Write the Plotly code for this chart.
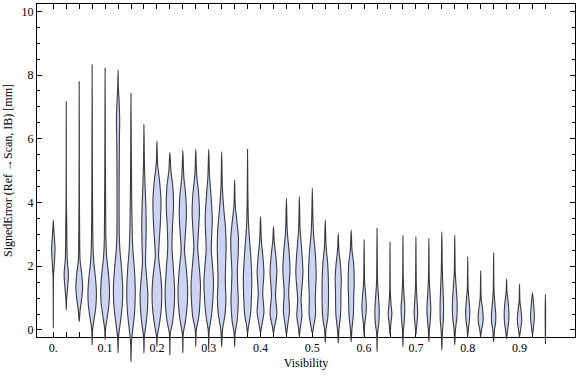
import plotly.graph_objects as go

# Visibility bins (category positions on the x axis)
VISIBILITY = [0.0, 0.025, 0.05, 0.075, 0.1, 0.125, 0.15, 0.175, 0.2, 0.225,
              0.25, 0.275, 0.3, 0.325, 0.35, 0.375, 0.4, 0.425, 0.45, 0.475,
              0.5, 0.525, 0.55, 0.575, 0.6, 0.625, 0.65, 0.675, 0.7, 0.725,
              0.75, 0.775, 0.8, 0.825, 0.85, 0.875, 0.9, 0.925, 0.95]

# Estimated density profile of each violin: signed error levels [mm] and relative density
PROFILE_Y = [
    [0.07, 1.7, 2.0, 2.55, 3.05, 3.45],
    [0.63, 1.0, 1.3, 1.75, 2.2, 2.6, 3.3, 4.0, 7.17],
    [0.26, 0.6, 1.0, 1.36, 1.8, 2.2, 3.0, 4.5, 7.8],
    [-0.47, 0.0, 0.3, 0.7, 1.15, 1.6, 2.1, 2.6, 3.5, 5.0, 8.32],
    [-0.3, 0.05, 0.4, 0.8, 1.25, 1.8, 2.3, 2.8, 4.0, 5.5, 8.22],
    [-0.72, -0.2, 0.3, 0.8, 1.3, 1.9, 2.5, 3.0, 4.0, 5.0, 6.0, 6.6, 7.2, 7.6, 8.16],
    [-1.0, -0.4, 0.0, 0.6, 1.25, 1.9, 2.5, 3.2, 4.2, 5.5, 7.43],
    [-0.72, -0.2, 0.2, 0.7, 1.15, 1.7, 2.1, 2.6, 3.2, 3.9, 4.6, 5.3, 6.44],
    [-0.52, -0.2, 0.2, 0.7, 1.2, 1.7, 2.3, 2.8, 3.5, 4.1, 4.7, 5.2, 5.93],
    [-0.78, -0.1, 0.3, 0.8, 1.3, 1.9, 2.6, 3.2, 3.9, 4.5, 5.0, 5.57],
    [-0.72, -0.1, 0.3, 0.8, 1.3, 1.9, 2.5, 3.0, 3.6, 4.2, 4.8, 5.65],
    [-0.52, 0.0, 0.4, 0.9, 1.45, 2.0, 2.6, 3.1, 3.7, 4.3, 4.9, 5.67],
    [-0.63, 0.0, 0.4, 1.0, 1.55, 2.1, 2.5, 3.0, 3.5, 4.1, 4.8, 5.67],
    [-0.52, 0.0, 0.5, 1.0, 1.5, 1.9, 2.6, 3.2, 3.8, 4.5, 5.6],
    [-0.53, -0.1, 0.3, 0.9, 1.4, 1.8, 2.4, 2.9, 3.4, 3.9, 4.71],
    [-0.1, 0.1, 0.5, 1.0, 1.6, 2.2, 2.8, 3.4, 4.2, 5.67],
    [-0.1, 0.1, 0.55, 1.15, 1.8, 2.3, 2.8, 3.56],
    [-0.1, 0.1, 0.5, 1.1, 1.85, 2.4, 2.8, 3.25],
    [-0.15, 0.1, 0.6, 1.15, 1.9, 2.5, 3.1, 4.13],
    [-0.2, 0.05, 0.45, 0.95, 1.8, 2.5, 3.2, 4.19],
    [-0.1, 0.1, 0.5, 1.0, 1.7, 2.4, 3.0, 3.6, 4.45],
    [-0.4, 0.0, 0.4, 1.4, 2.1, 2.6, 3.45],
    [-0.41, 0.0, 0.5, 1.2, 1.6, 2.1, 2.5, 3.03],
    [-0.37, 0.0, 0.5, 1.0, 1.5, 2.1, 2.5, 3.14],
    [-0.2, 0.2, 0.45, 0.75, 1.1, 1.5, 2.0, 2.83],
    [-0.68, -0.1, 0.2, 0.6, 1.0, 1.5, 2.2, 3.19],
    [-0.15, 0.2, 0.5, 0.8, 1.2, 2.77],
    [-0.52, 0.0, 0.3, 0.7, 1.1, 1.6, 2.98],
    [-0.15, 0.1, 0.5, 0.9, 1.4, 2.93],
    [-0.37, 0.0, 0.3, 0.65, 1.1, 1.6, 2.88],
    [-0.63, -0.1, 0.3, 0.8, 1.3, 1.9, 3.09],
    [-0.47, 0.0, 0.4, 0.8, 1.3, 1.8, 2.98],
    [-0.2, 0.05, 0.3, 0.6, 0.95, 1.3, 2.3],
    [-0.2, 0.0, 0.2, 0.4, 0.7, 1.0, 1.86],
    [-0.37, 0.0, 0.2, 0.45, 0.8, 1.2, 2.43],
    [-0.28, -0.05, 0.2, 0.5, 0.85, 1.2, 1.6],
    [-0.2, 0.0, 0.3, 0.6, 0.9, 1.44],
    [-0.15, 0.05, 0.4, 0.75, 1.18],
    [-0.42, 0.5, 1.12],
]
PROFILE_D = [
    [0.0, 0.3, 1.0, 2.0, 0.8, 0.0],
    [0.0, 0.5, 1.5, 2.5, 1.2, 0.8, 0.6, 0.2, 0.0],
    [0.0, 1.0, 3.0, 4.0, 2.8, 1.0, 0.5, 0.2, 0.0],
    [0.0, 0.5, 2.0, 4.2, 5.0, 4.0, 2.0, 1.0, 0.6, 0.3, 0.0],
    [0.0, 0.6, 2.5, 4.5, 5.2, 3.8, 1.8, 1.0, 0.6, 0.3, 0.0],
    [0.0, 0.6, 3.0, 5.0, 5.5, 4.2, 2.2, 1.4, 1.2, 1.3, 1.6, 1.9, 1.2, 0.4, 0.0],
    [0.0, 0.5, 2.0, 4.3, 5.0, 4.0, 2.2, 1.3, 0.8, 0.4, 0.0],
    [0.0, 0.5, 2.5, 4.2, 4.5, 3.0, 1.8, 2.2, 2.6, 2.2, 1.2, 0.5, 0.0],
    [0.0, 0.5, 3.0, 5.2, 5.7, 4.5, 2.0, 2.8, 4.3, 4.7, 3.0, 0.8, 0.0],
    [0.0, 0.6, 3.5, 5.2, 5.5, 4.2, 2.5, 3.0, 4.3, 3.5, 1.2, 0.0],
    [0.0, 0.6, 3.2, 5.2, 5.6, 4.2, 2.0, 3.0, 4.2, 3.5, 1.2, 0.0],
    [0.0, 0.6, 3.5, 5.0, 5.5, 4.0, 2.3, 3.2, 4.3, 3.3, 1.0, 0.0],
    [0.0, 0.6, 3.0, 5.0, 5.6, 4.2, 3.0, 3.6, 4.2, 3.0, 1.0, 0.0],
    [0.0, 1.0, 4.0, 5.0, 4.3, 4.5, 5.2, 4.5, 2.5, 0.8, 0.0],
    [0.0, 0.6, 3.0, 4.3, 3.6, 3.2, 4.2, 4.5, 2.8, 0.8, 0.0],
    [0.0, 1.0, 3.5, 4.5, 5.0, 4.0, 2.4, 1.0, 0.4, 0.0],
    [0.0, 1.2, 4.0, 2.6, 4.0, 2.8, 1.0, 0.0],
    [0.0, 1.2, 4.0, 2.4, 4.0, 2.5, 0.8, 0.0],
    [0.0, 1.2, 3.6, 2.6, 4.2, 3.0, 1.0, 0.0],
    [0.0, 1.0, 3.0, 2.0, 4.2, 2.8, 0.8, 0.0],
    [0.0, 1.5, 3.8, 3.5, 4.5, 3.5, 1.5, 0.6, 0.0],
    [0.0, 0.8, 3.0, 3.8, 2.8, 1.0, 0.0],
    [0.0, 0.8, 2.8, 3.2, 3.6, 2.4, 0.8, 0.0],
    [0.0, 0.8, 2.6, 3.0, 3.6, 2.8, 1.0, 0.0],
    [0.0, 0.8, 2.0, 2.6, 1.8, 0.6, 0.3, 0.0],
    [0.0, 0.5, 2.0, 2.6, 1.8, 0.6, 0.3, 0.0],
    [0.0, 1.0, 2.2, 1.2, 0.4, 0.0],
    [0.0, 0.6, 1.6, 2.2, 1.2, 0.4, 0.0],
    [0.0, 0.8, 2.1, 1.4, 0.5, 0.0],
    [0.0, 0.6, 1.6, 2.3, 1.4, 0.5, 0.0],
    [0.0, 0.6, 1.8, 2.0, 1.4, 0.6, 0.0],
    [0.0, 0.8, 2.5, 2.8, 1.8, 0.6, 0.0],
    [0.0, 0.8, 2.0, 2.5, 1.5, 0.5, 0.0],
    [0.0, 1.0, 2.5, 3.0, 2.0, 0.6, 0.0],
    [0.0, 1.0, 2.2, 2.6, 1.6, 0.5, 0.0],
    [0.0, 1.0, 2.3, 2.8, 2.0, 0.5, 0.0],
    [0.0, 1.2, 2.6, 1.8, 0.5, 0.0],
    [0.0, 1.0, 2.3, 1.5, 0.0],
    [0.0, 0.3, 0.0],
]

X_TICK_LABELS = ["0.", "0.1", "0.2", "0.3", "0.4", "0.5", "0.6", "0.7", "0.8", "0.9"]
Y_TICKS = [0, 2, 4, 6, 8, 10]

# style / geometry
DENS_TO_X = 0.85 / 518.0
FILL = "rgb(205,211,243)"
EDGE = "rgba(50,50,55,0.95)"
FONT = "Liberation Serif"

fig = go.Figure()

# dummy trace to anchor the framed subplot
fig.add_trace(go.Scatter(x=[None], y=[None], xaxis="x", yaxis="y",
                         showlegend=False, hoverinfo="skip"))

for pos, ys, ds in zip(VISIBILITY, PROFILE_Y, PROFILE_D):
    right_x = [pos + d * DENS_TO_X for d in ds]
    left_x = [pos - d * DENS_TO_X for d in reversed(ds)]
    xs = right_x + left_x[1:]
    yy = list(ys) + list(reversed(ys))[1:]
    fig.add_trace(go.Scatter(
        x=xs, y=yy, xaxis="x2", yaxis="y2",
        mode="lines", fill="toself", fillcolor=FILL,
        line=dict(color=EDGE, width=1.1, shape="spline", smoothing=0.8),
        showlegend=False, hoverinfo="skip"))

tickvals = VISIBILITY
ticktext = []
for i, v in enumerate(VISIBILITY):
    ticktext.append(X_TICK_LABELS[i // 4] if i % 4 == 0 else "")

XR = [-0.0315, 1.0071]
fig.update_layout(
    width=576, height=377, autosize=False,
    margin=dict(l=37, r=1, t=4, b=12),
    paper_bgcolor="white", plot_bgcolor="rgba(0,0,0,0)",
    font=dict(family=FONT, size=12, color="black"),
    hovermode=False,
    xaxis=dict(domain=[0, 1], range=XR, anchor="y", automargin=False,
               tickvals=tickvals, ticktext=ticktext,
               ticks="inside", ticklen=5, tickwidth=1, tickcolor="black",
               showline=True, linecolor="black", linewidth=1, mirror="allticks",
               showgrid=False, zeroline=False,
               tickfont=dict(family=FONT, size=12, color="black"),
               title=dict(text="Visibility", font=dict(family=FONT, size=12), standoff=4)),
    yaxis=dict(domain=[0.0776, 1], range=[-0.22, 10.23], anchor="x", automargin=False,
               tickvals=Y_TICKS, ticktext=[str(v) for v in Y_TICKS],
               ticks="inside", ticklen=5, tickwidth=1, tickcolor="black",
               minor=dict(dtick=0.5, ticks="inside", ticklen=3, tickcolor="black", showgrid=False),
               showline=True, linecolor="black", linewidth=1, mirror="allticks",
               showgrid=False, zeroline=False,
               tickfont=dict(family=FONT, size=12, color="black"),
               title=dict(text="SignedError (Ref \u2192Scan, IB) [mm]",
                          font=dict(family=FONT, size=12), standoff=6)),
    xaxis2=dict(domain=[0, 1], range=XR, anchor="y2", visible=False,
                showgrid=False, zeroline=False),
    yaxis2=dict(domain=[0, 1], range=[-1.097, 10.23], anchor="x2", visible=False,
                showgrid=False, zeroline=False),
)

fig.write_html("out.html", config={"responsive": False, "displayModeBar": False},
               post_script="document.body.style.margin='0px';")
